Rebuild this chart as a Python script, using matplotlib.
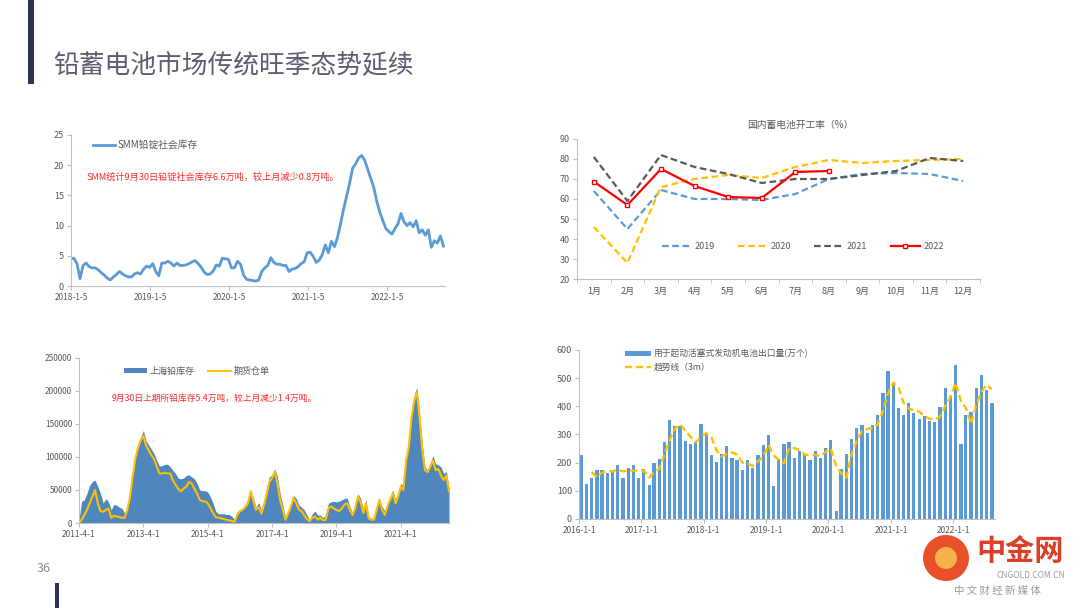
import matplotlib.pyplot as plt
import matplotlib.patches as mpatches
import numpy as np
import pandas as pd

plt.rcParams['font.family'] = ['Noto Sans CJK SC', 'DejaVu Sans']

# ---- data ----

# SMM lead ingot social inventory (10k t), every two weeks from 2018-01-05
smm_stock = [
    4.5, 4.6, 3.7, 1.2, 3.4, 3.8, 3.2, 3.0, 3.0, 2.7, 2.2, 1.8, 1.3, 1.0, 1.5, 1.9,
    2.4, 2.0, 1.7, 1.5, 1.5, 2.0, 2.2, 2.0, 2.8, 3.3, 3.1, 3.7, 2.4, 1.7, 3.8, 3.8,
    4.1, 3.8, 3.3, 3.8, 3.4, 3.4, 3.5, 3.7, 4.0, 4.2, 3.7, 3.1, 2.3, 1.9, 2.0, 2.5,
    3.5, 3.3, 4.6, 4.5, 4.4, 3.0, 3.0, 4.1, 3.6, 1.8, 1.1, 1.0, 0.9, 0.8, 1.0, 2.4,
    3.0, 3.4, 4.7, 3.9, 3.6, 3.6, 3.4, 3.4, 2.4, 2.8, 2.9, 3.2, 3.7, 4.0, 5.5, 5.6,
    4.9, 3.9, 4.3, 5.2, 6.8, 5.5, 7.4, 6.5, 8.0, 10.2, 12.7, 14.8, 17.0, 19.5, 20.2, 21.2,
    21.6, 20.8, 19.3, 17.8, 16.3, 14.0, 12.2, 10.8, 9.5, 9.0, 8.6, 9.5, 10.3, 12.0, 10.6, 10.0,
    10.5, 9.8, 10.8, 8.8, 9.3, 8.4, 9.3, 6.4, 7.5, 7.1, 8.3, 6.6,
]
smm_ticks = ['2018-01-05', '2019-01-05', '2020-01-05', '2021-01-05', '2022-01-05']
smm_tick_labels = ['2018-1-5', '2019-1-5', '2020-1-5', '2021-1-5', '2022-1-5']

# battery plant operating rate (%), by month
months = ['1月', '2月', '3月', '4月', '5月', '6月', '7月', '8月', '9月', '10月', '11月', '12月']
rate_2019 = [64, 45, 64.5, 60, 60, 59.5, 62.5, 70, 72.5, 73, 72.5, 69]
rate_2020 = [46, 28, 66, 70, 72, 70.5, 76, 79.5, 78, 79, 79.5, 80]
rate_2021 = [81, 59, 82, 76, 72.5, 68, 70, 70, 72, 74, 80.5, 79]
rate_2022 = [68.7, 57, 75, 66.5, 61, 60.5, 73.5, 74]

# SHFE lead inventory and warehouse receipts (thousand t), monthly from 2011-04
shfe_stock = [
    5, 33, 35, 45, 57, 63, 65, 55, 45, 30, 37, 32, 20, 28, 27, 24, 22, 15, 25, 40,
    75, 100, 120, 130, 140, 125, 118, 112, 105, 95, 86, 87, 89, 89, 85, 80, 75, 68, 67, 68,
    72, 73, 70, 67, 60, 50, 49, 49, 47, 40, 30, 18, 14, 14, 14, 13, 13, 10, 5, 17,
    20, 22, 28, 35, 50, 38, 24, 31, 20, 35, 55, 70, 73, 82, 70, 45, 27, 8, 18, 30,
    42, 37, 27, 24, 20, 12, 5, 14, 18, 12, 12, 8, 12, 30, 32, 33, 32, 33, 35, 37,
    38, 25, 15, 28, 44, 38, 22, 35, 10, 7, 8, 25, 37, 25, 18, 30, 40, 50, 35, 45,
    60, 55, 100, 120, 165, 195, 205, 165, 120, 85, 80, 90, 102, 90, 88, 85, 75, 78, 54,
]
shfe_receipts = [
    0, 5, 12, 20, 30, 40, 50, 30, 18, 17, 20, 22, 8, 11, 10, 9, 8, 8, 20, 40,
    70, 98, 115, 125, 132, 118, 110, 103, 97, 85, 75, 75, 76, 75, 75, 65, 58, 52, 48, 52,
    55, 62, 60, 52, 45, 35, 33, 33, 30, 23, 15, 9, 8, 7, 6, 5, 4, 3, 2, 12,
    18, 20, 24, 30, 48, 33, 20, 24, 14, 28, 45, 62, 68, 78, 60, 35, 20, 5, 14, 25,
    38, 30, 20, 18, 12, 6, 3, 8, 10, 5, 8, 4, 5, 22, 25, 22, 20, 18, 22, 28,
    30, 20, 12, 22, 40, 32, 15, 30, 7, 5, 5, 20, 35, 20, 12, 25, 35, 45, 30, 40,
    55, 50, 95, 115, 160, 185, 198, 160, 110, 80, 77, 85, 95, 80, 82, 72, 65, 72, 48,
]
shfe_ticks = ['2011-04-01', '2013-04-01', '2015-04-01', '2017-04-01', '2019-04-01', '2021-04-01']
shfe_tick_labels = ['2011-4-1', '2013-4-1', '2015-4-1', '2017-4-1', '2019-4-1', '2021-4-1']

# starter battery exports (10k units), monthly from 2016-01, and 3-month trend
exports = [
    228, 125, 147, 173, 175, 163, 170, 192, 145, 180, 192, 145,
    177, 120, 200, 213, 275, 352, 330, 330, 278, 267, 272, 338,
    304, 228, 204, 232, 258, 217, 208, 175, 208, 180, 226, 263,
    297, 117, 213, 265, 275, 217, 240, 230, 208, 242, 218, 253,
    280, 30, 178, 230, 283, 322, 332, 306, 333, 368, 448, 526,
    478, 394, 370, 410, 377, 355, 366, 348, 346, 396, 464, 438,
    548, 267, 369, 379, 464, 511, 457, 411,
]
exports_trend = [
    167, 148, 165, 170, 169, 175, 169, 172, 172, 172,
    171, 147, 166, 178, 229, 280, 319, 337, 313, 292, 272, 292,
    305, 290, 245, 221, 231, 236, 228, 200, 197, 188, 205, 223,
    262, 226, 209, 198, 251, 252, 244, 229, 226, 227, 223, 238,
    250, 188, 163, 146, 230, 278, 312, 320, 324, 336, 383, 447,
    484, 466, 414, 391, 386, 381, 366, 356, 353, 363, 402, 433,
    483, 418, 395, 338, 404, 451, 477, 460,
]
export_ticks = ['2016-01-01', '2017-01-01', '2018-01-01', '2019-01-01',
                '2020-01-01', '2021-01-01', '2022-01-01']
export_tick_labels = ['2016-1-1', '2017-1-1', '2018-1-1', '2019-1-1',
                      '2020-1-1', '2021-1-1', '2022-1-1']

AXIS_GREY = '#bfbfbf'
TEXT_GREY = '#595959'
BLUE = '#5b9bd5'
GOLD = '#ffc000'


def style_axes(ax):
    """Excel-like look: only left and bottom axis lines, grey small ticks."""
    for side in ['top', 'right']:
        ax.spines[side].set_visible(False)
    for side in ['left', 'bottom']:
        ax.spines[side].set_color(AXIS_GREY)
        ax.spines[side].set_linewidth(0.8)
    ax.tick_params(axis='both', colors=AXIS_GREY, length=3, width=0.8, labelcolor=TEXT_GREY)
    ax.tick_params(axis='y', labelsize=6.5, pad=2)
    ax.tick_params(axis='x', labelsize=6, pad=2)


def plot_smm(fig):
    ax = fig.add_axes([0.0657, 0.5296, 0.3463, 0.2484])
    dates = pd.date_range('2018-01-05', periods=len(smm_stock), freq='14D')
    ax.plot(dates, smm_stock, color=BLUE, lw=2.0, label='SMM铅锭社会库存')
    ax.set_xlim(pd.Timestamp('2018-01-05'), pd.Timestamp('2022-09-30'))
    ax.set_ylim(0, 25)
    ax.set_yticks(range(0, 26, 5))
    ax.set_xticks(pd.to_datetime(smm_ticks))
    ax.set_xticklabels(smm_tick_labels)
    style_axes(ax)
    ax.legend(loc='center left', bbox_to_anchor=(0.045, 0.934), frameon=False,
              fontsize=7, handlelength=2.3, handletextpad=0.3, borderpad=0,
              labelcolor=TEXT_GREY)
    ax.text(0.043, 0.722, 'SMM统计9月30日铅锭社会库存6.6万吨，较上月减少0.8万吨。',
            transform=ax.transAxes, color='#ff2a2a', fontsize=6.6, va='center')


def plot_rate(fig):
    ax = fig.add_axes([0.5343, 0.5411, 0.3731, 0.2303])
    x = np.arange(len(months))
    dash = (0, (3, 1.6))
    ax.plot(x, rate_2019, color=BLUE, lw=1.6, ls=dash, label='2019')
    ax.plot(x, rate_2020, color=GOLD, lw=1.6, ls=dash, label='2020')
    ax.plot(x, rate_2021, color='#595959', lw=1.6, ls=dash, label='2021')
    ax.plot(x[:len(rate_2022)], rate_2022, color='#ff0000', lw=1.6, marker='s', ms=3.5,
            mfc='white', mec='#ff0000', mew=1, label='2022')
    ax.set_xlim(-0.5, 11.5)
    ax.set_ylim(20, 90)
    ax.set_yticks(range(20, 91, 10))
    ax.set_xticks(x)
    ax.set_xticklabels(months)
    ax.set_xticks(np.arange(-0.5, 12, 1), minor=True)
    style_axes(ax)
    ax.tick_params(axis='x', which='major', length=0, labelsize=6.5, pad=6)
    ax.tick_params(axis='x', which='minor', length=3, color=AXIS_GREY)
    ax.legend(loc='center', bbox_to_anchor=(0.56, 0.229), ncol=4, frameon=False,
              fontsize=6.5, handlelength=3.2, columnspacing=2.6, handletextpad=0.4,
              borderpad=0, labelcolor=TEXT_GREY)
    fig.text(800 / 1080, 1 - 125 / 608, '国内蓄电池开工率（%）', ha='center', va='center',
             fontsize=7, color=TEXT_GREY)


def plot_shfe(fig):
    ax = fig.add_axes([0.0731, 0.1398, 0.3426, 0.2714])
    dates = pd.date_range('2011-04-01', periods=len(shfe_stock), freq='MS')
    stock = np.array(shfe_stock) * 1000
    receipts = np.array(shfe_receipts) * 1000
    ax.fill_between(dates, stock, color='#4f86bd', lw=0, label='上海铅库存')
    ax.plot(dates, receipts, color=GOLD, lw=1.5, label='期货仓单')
    ax.set_xlim(pd.Timestamp('2011-04-01'), pd.Timestamp('2022-09-30'))
    ax.set_ylim(0, 250000)
    ax.set_yticks(range(0, 250001, 50000))
    ax.set_xticks(pd.to_datetime(shfe_ticks))
    ax.set_xticklabels(shfe_tick_labels)
    style_axes(ax)
    ax.tick_params(axis='y', labelsize=6)
    ax.legend(loc='center left', bbox_to_anchor=(0.11, 0.921), ncol=2, frameon=False,
              fontsize=6.5, handlelength=2.5, handleheight=0.5, columnspacing=1.5,
              handletextpad=0.3, borderpad=0, labelcolor=TEXT_GREY)
    ax.text(0.089, 0.758, '9月30日上期所铅库存5.4万吨，较上月减少1.4万吨。',
            transform=ax.transAxes, color='#ff2a2a', fontsize=6.3, va='center')


def plot_exports(fig):
    ax = fig.add_axes([0.5361, 0.1464, 0.385, 0.278])
    dates = pd.date_range('2016-01-01', periods=len(exports), freq='MS') + pd.Timedelta(days=14)
    bars = ax.bar(dates, exports, width=19, color=BLUE, lw=0)
    trend, = ax.plot(dates[len(exports) - len(exports_trend):], exports_trend, color=GOLD,
                     lw=1.7, ls=(0, (3, 1.6)))
    ax.set_xlim(pd.Timestamp('2016-01-01'), pd.Timestamp('2022-09-01'))
    ax.set_ylim(0, 600)
    ax.set_yticks(range(0, 601, 100))
    ax.set_xticks(pd.to_datetime(export_ticks))
    ax.set_xticklabels(export_tick_labels)
    style_axes(ax)
    ax.legend([bars, trend], ['用于起动活塞式发动机电池出口量(万个)', '趋势线（3m）'],
              loc='upper left', bbox_to_anchor=(0.1, 1.03), frameon=False,
              fontsize=6.3, handlelength=3.0, handleheight=0.6, handletextpad=0.3,
              labelspacing=0.5, borderpad=0, labelcolor=TEXT_GREY)


def draw_page(fig):
    """Slide decoration: title, side bars, page number and the watermark."""
    fig.add_artist(mpatches.Rectangle((28 / 1080, 1 - 84 / 608), 6 / 1080, 84 / 608,
                                      transform=fig.transFigure, color='#2f3452', lw=0))
    fig.text(53 / 1080, 1 - 66 / 608, '铅蓄电池市场传统旺季态势延续', fontsize=18.5,
             color='#5b5e72', va='center', ha='left')
    fig.add_artist(mpatches.Rectangle((55 / 1080, 0), 4 / 1080, 25 / 608,
                                      transform=fig.transFigure, color='#2f3452', lw=0))
    fig.text(44 / 1080, 1 - 568 / 608, '36', fontsize=9, color='#8a8a8a', ha='center', va='center')
    # watermark
    fig.add_artist(mpatches.Ellipse((946 / 1080, 1 - 558 / 608), 46 / 1080, 46 / 608,
                                    transform=fig.transFigure, color='#e8502a', lw=0))
    fig.add_artist(mpatches.Ellipse((946 / 1080, 1 - 558 / 608), 22 / 1080, 22 / 608,
                                    transform=fig.transFigure, color='#f6b24a', lw=0))
    fig.text(1020 / 1080, 1 - 551 / 608, '中金网', fontsize=21, color='#d8402a',
             ha='center', va='center', fontweight='bold')
    fig.text(1065 / 1080, 1 - 575 / 608, 'CNGOLD.COM.CN', fontsize=6, color='#9a9a9a',
             ha='right', va='center')
    fig.text(997 / 1080, 1 - 591 / 608, '中 文 财 经 新 媒 体', fontsize=7.5, color='#9a9a9a',
             ha='center', va='center')


# Main code

fig = plt.figure(figsize=(10.8, 6.08), dpi=100)
fig.patch.set_facecolor('white')

plot_smm(fig)
plot_rate(fig)
plot_shfe(fig)
plot_exports(fig)
draw_page(fig)

fig.savefig('out.png', dpi=100)
